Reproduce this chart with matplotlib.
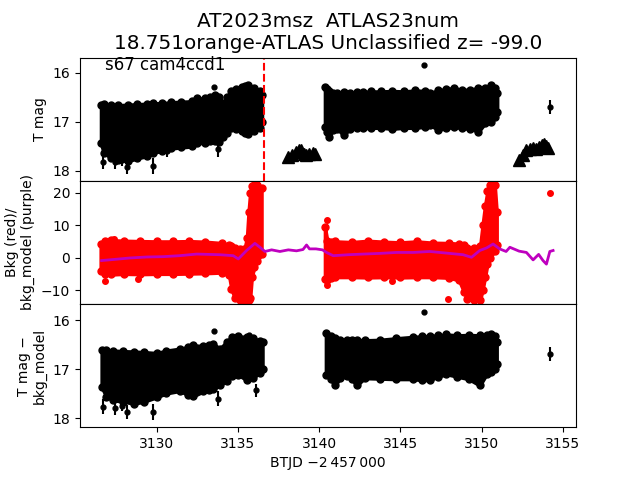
import matplotlib
matplotlib.use("Agg")
import matplotlib.pyplot as plt

# ---- top panel: T mag envelope of the dense light curve ----
t1_a = [3126.57, 3126.75, 3127.2, 3127.6, 3128.25, 3128.8, 3129.4, 3129.8, 3130.3, 3130.9,
        3131.5, 3132.15, 3132.5, 3132.97, 3133.3, 3133.58, 3133.85, 3134.09, 3134.35, 3134.6,
        3134.9, 3135.22, 3135.45, 3135.63, 3136.0, 3136.35, 3136.48]
t1_a_up = [16.65, 16.64, 16.65, 16.66, 16.65, 16.64, 16.63, 16.62, 16.62, 16.6,
           16.59, 16.58, 16.52, 16.52, 16.5, 16.45, 16.5, 16.62, 16.5, 16.38,
           16.33, 16.28, 16.27, 16.25, 16.3, 16.38, 16.45]
t1_a_lo = [17.44, 17.64, 17.73, 17.77, 17.8, 17.74, 17.7, 17.63, 17.59, 17.54,
           17.52, 17.5, 17.44, 17.42, 17.39, 17.38, 17.4, 17.3, 17.22, 17.12,
           17.14, 17.18, 17.22, 17.25, 17.18, 17.12, 17.0]

t1_b = [3140.35, 3140.45, 3140.6, 3140.85, 3141.1, 3141.5, 3141.9, 3142.3, 3142.7, 3143.2,
        3143.8, 3144.5, 3145.2, 3145.9, 3146.5, 3146.8, 3147.3, 3147.8, 3148.3, 3148.8,
        3149.3, 3149.8, 3150.2, 3150.6, 3150.8, 3150.95]
t1_b_up = [16.28, 16.33, 16.38, 16.41, 16.41, 16.4, 16.41, 16.4, 16.39, 16.38,
           16.38, 16.37, 16.38, 16.36, 16.37, 16.41, 16.36, 16.33, 16.31, 16.35,
           16.34, 16.31, 16.31, 16.25, 16.3, 16.42]
t1_b_lo = [17.1, 17.2, 17.3, 17.16, 17.14, 17.27, 17.14, 17.13, 17.13, 17.12,
           17.12, 17.14, 17.12, 17.12, 17.1, 17.06, 17.16, 17.13, 17.1, 17.13,
           17.14, 17.2, 17.03, 17.0, 16.9, 16.8]

# triangles in the gaps
tri_t = [3138.06, 3138.3, 3138.55, 3138.75, 3138.85, 3139.05, 3139.2, 3139.4, 3139.6, 3139.75,
         3152.32, 3152.55, 3152.75, 3152.95, 3153.16, 3153.35, 3153.5, 3153.7, 3153.82, 3153.95, 3154.08]
tri_m = [17.71, 17.67, 17.62, 17.57, 17.58, 17.66, 17.67, 17.66, 17.63, 17.65,
         17.77, 17.67, 17.57, 17.56, 17.53, 17.55, 17.51, 17.48, 17.45, 17.5, 17.54]

# isolated points with error bars (top)
out1_t = [3126.71, 3127.43, 3127.84, 3128.19, 3129.79, 3130.61, 3133.79, 3154.19]
out1_m = [17.81, 17.81, 17.78, 17.91, 17.9, 17.6, 17.56, 16.70]
out1_e = [0.15, 0.15, 0.12, 0.15, 0.16, 0.12, 0.15, 0.14]
dot1_t = [3133.54, 3146.46]
dot1_m = [16.28, 15.84]

# ---- middle panel: background ----
b_a = [3126.55, 3126.8, 3127.2, 3128.0, 3129.0, 3130.0, 3131.0, 3132.0, 3133.0, 3134.0,
       3134.45, 3134.6, 3134.8, 3135.1, 3135.4, 3135.55, 3135.65, 3135.75, 3135.85, 3136.0,
       3136.2, 3136.45]
b_a_lo = [-4.0, -5.0, -5.2, -5.0, -5.1, -5.0, -5.0, -4.9, -4.8, -4.6,
          -5.5, -9.8, -12.4, -13.1, -13.2, -13.0, -13.0, -12.5, -6.0, -3.0,
          -1.0, 1.0]
b_a_up = [4.2, 5.0, 5.4, 5.2, 5.1, 5.0, 5.0, 5.1, 4.9, 4.5,
          4.0, 3.5, 3.0, 2.6, 2.8, 6.0, 14.0, 20.0, 22.2, 22.3,
          22.3, 21.5]

b_b = [3140.35, 3140.5, 3140.7, 3141.0, 3142.0, 3143.0, 3144.0, 3145.0, 3146.0, 3147.0,
       3148.0, 3148.6, 3148.9, 3149.1, 3149.5, 3149.9, 3150.05, 3150.2, 3150.35, 3150.5,
       3150.8, 3150.92]
b_b_lo = [-6.5, -6.8, -6.2, -6.0, -6.0, -6.1, -6.0, -6.1, -6.0, -6.0,
          -6.2, -7.0, -10.5, -12.8, -13.2, -13.0, -10.0, -6.0, -2.0, 0.0,
          2.0, 4.0]
b_b_up = [9.3, 5.2, 4.8, 5.0, 4.8, 5.2, 4.9, 4.7, 5.0, 4.6,
          4.5, 4.3, 3.8, 3.0, 3.0, 3.5, 10.0, 16.0, 20.5, 22.3,
          22.3, 14.0]

bkg_out_t = [3126.82, 3127.39, 3128.87, 3140.47, 3140.45, 3144.45, 3147.93, 3154.19]
bkg_out_v = [-7.2, 5.9, -6.5, 11.7, -8.5, -7.1, -12.9, 19.9]

model_t = [3126.61, 3127.5, 3128.36, 3129.4, 3130.4, 3131.4, 3132.46, 3133.2, 3133.89, 3134.71,
           3135.02, 3135.53, 3136.04, 3136.35, 3136.66, 3137.07, 3137.58, 3138.1, 3138.6, 3139.0,
           3139.22, 3139.4, 3139.8, 3140.2, 3140.45, 3140.86, 3141.8, 3142.7, 3143.7, 3144.76,
           3145.8, 3146.8, 3147.83, 3148.85, 3149.37, 3149.88, 3150.3, 3150.7, 3151.1, 3151.5,
           3151.73, 3152.3, 3152.75, 3153.16, 3153.5, 3153.77, 3153.98, 3154.19, 3154.39]
model_v = [-0.9, -0.5, -0.1, 0.2, 0.3, 0.6, 1.1, 1.0, 0.9, 0.6,
           -0.4, 2.2, 4.4, 3.2, 1.9, 2.4, 1.9, 2.4, 2.1, 2.5,
           3.9, 2.7, 2.7, 2.4, 1.6, 0.6, 0.9, 1.1, 1.3, 1.6,
           1.6, 1.9, 1.4, 0.9, 0.1, 2.2, 3.0, 4.2, 2.7, 1.9,
           3.2, 2.0, 1.6, -0.7, 1.0, -0.9, -2.0, 1.9, 2.2]

# ---- bottom panel: T mag - bkg_model ----
t3_a = [3126.61, 3126.9, 3127.3, 3127.95, 3128.6, 3129.2, 3129.99, 3130.6, 3131.43, 3131.9,
        3132.25, 3132.87, 3133.2, 3133.48, 3133.89, 3134.3, 3134.61, 3135.0, 3135.53, 3135.9,
        3136.35, 3136.51]
t3_a_up = [16.6, 16.61, 16.62, 16.63, 16.64, 16.65, 16.67, 16.62, 16.58, 16.55,
           16.51, 16.53, 16.5, 16.48, 16.58, 16.44, 16.34, 16.33, 16.34, 16.36,
           16.42, 16.45]
t3_a_lo = [17.36, 17.56, 17.63, 17.66, 17.7, 17.66, 17.57, 17.49, 17.44, 17.52,
           17.55, 17.45, 17.43, 17.41, 17.32, 17.24, 17.14, 17.11, 17.22, 17.18,
           17.07, 17.0]

t3_b = [3140.41, 3140.7, 3140.96, 3141.3, 3141.68, 3142.0, 3142.3, 3142.8, 3143.73, 3144.7,
        3145.78, 3146.3, 3146.8, 3147.3, 3147.83, 3148.5, 3149.2, 3149.88, 3150.3, 3150.6,
        3150.8, 3150.92]
t3_b_up = [16.27, 16.33, 16.37, 16.4, 16.41, 16.41, 16.4, 16.41, 16.4, 16.37,
           16.34, 16.33, 16.32, 16.31, 16.29, 16.31, 16.3, 16.31, 16.3, 16.29,
           16.33, 16.45]
t3_b_lo = [17.12, 17.2, 17.33, 17.18, 17.14, 17.2, 17.33, 17.18, 17.19, 17.2,
           17.2, 17.22, 17.22, 17.15, 17.1, 17.15, 17.2, 17.33, 17.1, 17.05,
           17.0, 16.9]

out3_t = [3126.71, 3127.43, 3127.84, 3128.19, 3129.79, 3133.79, 3136.1, 3154.19]
out3_m = [17.76, 17.78, 17.74, 17.87, 17.87, 17.6, 17.43, 16.69]
out3_e = [0.15, 0.15, 0.12, 0.15, 0.16, 0.15, 0.14, 0.14]
dot3_t = [3133.54, 3135.7, 3146.46, 3147.7]
dot3_m = [16.22, 16.31, 15.83, 16.35]

tmid = 3136.61


def band(ax, t, a, b, c):
    # dense points drawn as a filled envelope, with dots along the edges
    ax.fill_between(t, a, b, color=c, lw=2.5, edgecolor=c)
    ax.plot(t, a, "o", color=c, ms=5, ls="none")
    ax.plot(t, b, "o", color=c, ms=5, ls="none")


fig, (ax1, ax2, ax3) = plt.subplots(3, 1, sharex=True, figsize=(6.4, 4.8))
fig.subplots_adjust(hspace=0)

# top
band(ax1, t1_a, t1_a_up, t1_a_lo, "k")
band(ax1, t1_b, t1_b_up, t1_b_lo, "k")
ax1.plot(tri_t, tri_m, "k^", ms=9, ls="none")
ax1.errorbar(out1_t, out1_m, yerr=out1_e, fmt="ko", ms=3.5, elinewidth=1.5)
ax1.plot(dot1_t, dot1_m, "ko", ms=3.5)
ax1.axvline(tmid, color="r", ls="--", lw=1.5)
ax1.set_ylim(18.2, 15.69)
ax1.set_yticks([16, 17, 18])
ax1.set_ylabel("T mag")
ax1.text(0.05, 0.9, "s67 cam4ccd1", transform=ax1.transAxes, fontsize=12)
ax1.set_title("AT2023msz  ATLAS23num\n18.751orange-ATLAS Unclassified z= -99.0",
              fontsize=14.4)

# middle
band(ax2, b_a, b_a_lo, b_a_up, "r")
band(ax2, b_b, b_b_lo, b_b_up, "r")
ax2.plot(bkg_out_t, bkg_out_v, "ro", ms=4)
ax2.plot(model_t, model_v, color="m", lw=2)
ax2.set_ylim(-14.3, 23.7)
ax2.set_yticks([-10, 0, 10, 20])
ax2.set_ylabel("Bkg (red)/\nbkg_model (purple)")

# bottom
band(ax3, t3_a, t3_a_up, t3_a_lo, "k")
band(ax3, t3_b, t3_b_up, t3_b_lo, "k")
ax3.errorbar(out3_t, out3_m, yerr=out3_e, fmt="ko", ms=3.5, elinewidth=1.5)
ax3.plot(dot3_t, dot3_m, "ko", ms=3.5)
ax3.set_ylim(18.18, 15.67)
ax3.set_yticks([16, 17, 18])
ax3.set_ylabel("T mag \u2212\nbkg_model")
ax3.set_xlim(3125.28, 3155.8)
ax3.set_xticks([3130, 3135, 3140, 3145, 3150, 3155])
ax3.set_xlabel("BTJD \u22122\u2009457\u2009000")

fig.savefig("out.png", dpi=100)
